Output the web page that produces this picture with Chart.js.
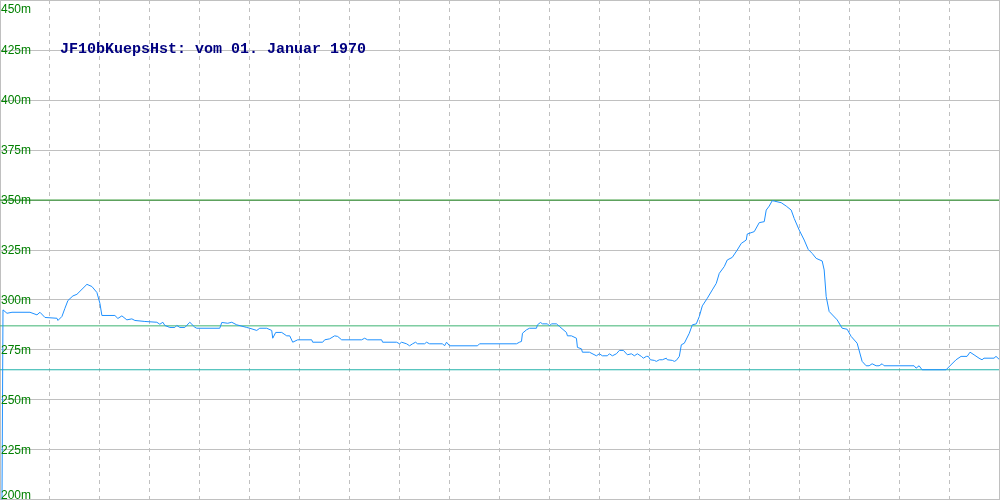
<!DOCTYPE html>
<html>
<head>
<meta charset="utf-8">
<script src="https://cdn.jsdelivr.net/npm/chart.js@4/dist/chart.umd.min.js"></script>
<style>
  html, body { margin: 0; padding: 0; background: #fff; }
  #box { width: 1000px; height: 500px; }
</style>
</head>
<body>
<div id="box"><canvas id="myChart"></canvas></div>
<script>
const chartTitle = "JF10bKuepsHst: vom 01. Januar 1970";

// distance along the track (0..1000) and height in m
const distance = [2, 3, 7, 12, 30, 37, 40, 45, 57, 58, 62, 65, 68, 73, 77, 87, 92, 97, 100, 102,
  115, 118, 122, 127, 132, 135, 145, 157, 160, 163, 165, 170, 175, 177, 180, 185, 190, 195, 197, 220,
  222, 228, 232, 237, 247, 250, 257, 260, 267, 272, 273, 276, 282, 287, 290, 293, 298, 312, 313, 323,
  325, 330, 335, 338, 342, 362, 365, 368, 382, 383, 397, 400, 402, 407, 410, 413, 416, 418, 425, 427,
  430, 443, 445, 447, 450, 478, 480, 517, 520, 522, 523, 527, 530, 537, 538, 541, 543, 548, 550, 552,
  557, 560, 567, 568, 572, 577, 578, 582, 583, 590, 597, 600, 603, 608, 610, 613, 617, 620, 624, 628,
  632, 635, 638, 642, 644, 647, 649, 651, 655, 657, 660, 663, 667, 668, 673, 675, 677, 680, 682, 685,
  690, 693, 697, 700, 703, 708, 713, 717, 720, 725, 728, 733, 738, 742, 747, 748, 755, 760, 765, 767,
  770, 773, 775, 782, 787, 792, 795, 800, 805, 809, 813, 817, 823, 825, 827, 830, 838, 843, 848, 852,
  858, 863, 867, 870, 873, 877, 880, 883, 885, 915, 917, 920, 923, 947, 957, 962, 968, 971, 975, 980,
  983, 985, 995, 997, 1000];
const height = [200, 295, 293.3, 293.8, 293.8, 292.5, 293.8, 291.2, 290.8, 289.7, 291.7, 295.8, 299.7, 302, 302.8, 307.8, 306.7, 303.7, 298.3, 292.2,
  292.2, 290.7, 292, 290, 290.5, 289.7, 289.2, 288.8, 287.8, 288.8, 287.2, 286.2, 286.2, 287.2, 286.2, 286.2, 288.8, 286.3, 285.8, 285.8,
  288.7, 288.3, 288.8, 287.5, 286.2, 285.8, 284.7, 285.8, 285.8, 284.7, 280.8, 283.7, 283.7, 282, 282, 278.8, 280, 280, 278.8, 278.8,
  280, 280.5, 282, 281.7, 280, 280, 280.8, 280, 280, 278.8, 278.8, 278, 278.8, 278, 277, 278, 278.8, 278, 278, 278.8,
  278, 278, 277, 278.8, 277, 277, 278, 278, 278.8, 279.2, 283.3, 285, 285.8, 285.8, 287.5, 288.7, 288, 288, 287, 288,
  288, 286.7, 283.7, 282, 282, 280.8, 276.2, 275.5, 273.8, 273.8, 272, 273, 272, 272, 273, 272, 273, 274.7, 274.7, 272.5,
  273, 272, 273, 271.7, 270.8, 271.7, 271.7, 270, 269.7, 269.2, 270, 270, 270.8, 270, 269.7, 269.2, 269.7, 271.7, 277.5, 278.3,
  283.3, 287.5, 288, 291.7, 297, 300.8, 305, 308.3, 313.3, 316.7, 320, 321.3, 325, 328.3, 330, 333, 334.2, 338.7, 339.2, 345,
  347, 349.7, 349.5, 348.7, 347, 345, 340.8, 335, 330, 325.3, 323.3, 320.8, 319.5, 315, 301.7, 294.2, 290, 285.8, 285.3, 281.7,
  278.3, 269.2, 267, 267, 268, 267, 267, 268, 267, 267, 265.8, 267, 265, 265, 270, 271.7, 271.7, 273.8, 272.5, 270.8,
  270, 270.8, 270.8, 271.7, 270.3];

// horizontal reference lines (m)
const limitHigh = 350;
const limitMid = 287;
const limitLow = 265;

const yTicks = [200, 225, 250, 275, 300, 325, 350, 375, 400, 425, 450];
const yTickLabels = ["200m", "225m", "250m", "275m", "300m", "325m", "350m", "375m", "400m", "425m", "450m"];

const profile = distance.map((d, i) => ({ x: d, y: height[i] }));
function flat(v) {
  return [{ x: 0, y: v }, { x: 1000, y: v }];
}

const labelPlugin = {
  id: 'labelPlugin',
  afterDraw(chart) {
    const ctx = chart.ctx;
    const area = chart.chartArea;
    const yScale = chart.scales.y;
    ctx.save();
    // frame on the right side
    ctx.strokeStyle = '#c0c0c0';
    ctx.lineWidth = 1;
    ctx.beginPath();
    ctx.moveTo(area.right + 0.5, area.top);
    ctx.lineTo(area.right + 0.5, area.bottom);
    ctx.stroke();

    ctx.font = '12px "Liberation Sans", Arial, sans-serif';
    ctx.fillStyle = '#008000';
    ctx.textAlign = 'left';
    ctx.textBaseline = 'alphabetic';
    for (let i = 0; i < yTicks.length; i++) {
      let py = Math.round(yScale.getPixelForValue(yTicks[i])) + 4;
      if (py < 13) py = 13;
      if (py > 498.5) py = 498.5;
      ctx.fillText(yTickLabels[i], 1, py);
    }

    ctx.font = 'bold 15px "Liberation Mono", "DejaVu Sans Mono", monospace';
    ctx.fillStyle = '#000080';
    ctx.fillText(chartTitle, 60, 53);
    ctx.restore();
  }
};

const ctx = document.getElementById('myChart');

new Chart(ctx, {
  type: 'line',
  data: {
    datasets: [{
      label: 'Hoehe',
      data: profile,
      borderColor: '#1e90ff',
      borderWidth: 1,
      pointRadius: 0,
      tension: 0
    }, {
      label: 'high',
      data: flat(limitHigh),
      borderColor: '#1a8c1a',
      borderWidth: 1,
      pointRadius: 0
    }, {
      label: 'mid',
      data: flat(limitMid),
      borderColor: '#3cb371',
      borderWidth: 1,
      pointRadius: 0
    }, {
      label: 'low',
      data: flat(limitLow),
      borderColor: '#20b2aa',
      borderWidth: 1,
      pointRadius: 0
    }]
  },
  options: {
    responsive: true,
    maintainAspectRatio: false,
    animation: false,
    layout: { padding: { left: 0, top: 0, right: 1, bottom: 0 } },
    plugins: {
      legend: { display: false },
      tooltip: { enabled: false },
      title: { display: false }
    },
    scales: {
      x: {
        type: 'linear',
        min: 0,
        max: 1000,
        ticks: { display: false, stepSize: 50 },
        grid: { color: '#c0c0c0', drawTicks: false, lineWidth: 1 },
        border: { display: false, dash: [4, 4] }
      },
      y: {
        type: 'linear',
        min: 199.75,
        max: 450.25,
        afterBuildTicks: (axis) => { axis.ticks = yTicks.map(v => ({ value: v })); },
        ticks: { display: false },
        grid: { color: '#c0c0c0', drawTicks: false, lineWidth: 1 },
        border: { display: true, color: '#c0c0c0', width: 1 }
      }
    }
  },
  plugins: [labelPlugin]
});
</script>
</body>
</html>
